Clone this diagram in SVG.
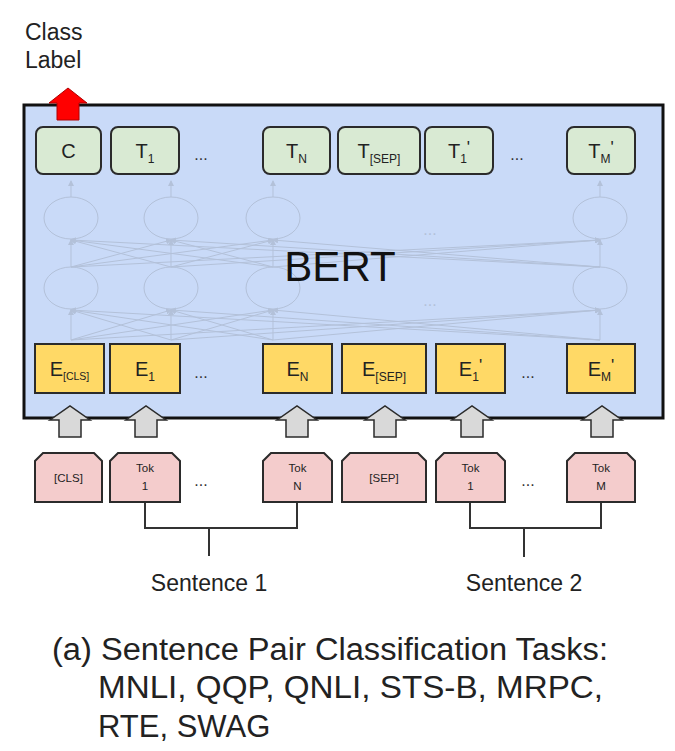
<svg xmlns="http://www.w3.org/2000/svg" width="675" height="751" viewBox="0 0 675 751">
<style>
text{font-family:"Liberation Sans",Arial,sans-serif;fill:#222}
.g{fill:#d9ead3;stroke:#2b2b2b;stroke-width:2}
.y{fill:#ffd966;stroke:#2b2b2b;stroke-width:2}
.p{fill:#f4cccc;stroke:#2b2b2b;stroke-width:2}
.lab{font-size:20px;text-anchor:middle}
.sub{font-size:12px}
.tok{font-size:11.5px;text-anchor:middle}
.dots{font-size:16px;text-anchor:middle;fill:#333}
.net{fill:none;stroke:#b3c1d9;stroke-width:1}
.ga{fill:#d9d9d9;stroke:#2b2b2b;stroke-width:1.5}
.br{fill:none;stroke:#333;stroke-width:2}
</style>
<defs>
<marker id="ah" markerWidth="6" markerHeight="6" refX="5" refY="3" orient="auto" markerUnits="userSpaceOnUse"><path d="M0,0 L6,3 L0,6 z" fill="#b3c1d9"/></marker>
</defs>

<g id="class-label">
<text x="25" y="40" font-size="23">Class</text>
<text x="25" y="68" font-size="23">Label</text>
</g>

<g id="bert">
<rect x="24" y="105" width="639" height="313" fill="#c9daf8" stroke="#111" stroke-width="3"/>
<g id="network" class="net">
<ellipse cx="71" cy="218" rx="27" ry="21"/><ellipse cx="171" cy="218" rx="27" ry="21"/><ellipse cx="273" cy="218" rx="27" ry="21"/><ellipse cx="600" cy="218" rx="27" ry="21"/>
<ellipse cx="71" cy="288" rx="27" ry="21"/><ellipse cx="171" cy="288" rx="27" ry="21"/><ellipse cx="273" cy="288" rx="27" ry="21"/><ellipse cx="600" cy="288" rx="27" ry="21"/>
<g marker-end="url(#ah)">
<path d="M71,197 V181"/><path d="M171,197 V181"/><path d="M273,197 V181"/><path d="M600,197 V181"/>
<path d="M71,267 L71,240"/><path d="M171,267 L71,240"/><path d="M273,267 L71,240"/><path d="M600,267 L71,240"/>
<path d="M71,267 L171,240"/><path d="M171,267 L171,240"/><path d="M273,267 L171,240"/><path d="M600,267 L171,240"/>
<path d="M71,267 L273,240"/><path d="M171,267 L273,240"/><path d="M273,267 L273,240"/><path d="M600,267 L273,240"/>
<path d="M71,267 L600,240"/><path d="M171,267 L600,240"/><path d="M273,267 L600,240"/><path d="M600,267 L600,240"/>
<path d="M71,340 L71,310"/><path d="M171,340 L71,310"/><path d="M273,340 L71,310"/><path d="M600,340 L71,310"/>
<path d="M71,340 L171,310"/><path d="M171,340 L171,310"/><path d="M273,340 L171,310"/><path d="M600,340 L171,310"/>
<path d="M71,340 L273,310"/><path d="M171,340 L273,310"/><path d="M273,340 L273,310"/><path d="M600,340 L273,310"/>
<path d="M71,340 L600,310"/><path d="M171,340 L600,310"/><path d="M273,340 L600,310"/><path d="M600,340 L600,310"/>
</g>
</g>
<text x="430" y="235" class="dots" style="fill:#b3c1d9" font-size="12">...</text>
<text x="430" y="306" class="dots" style="fill:#b3c1d9" font-size="12">...</text>
<text x="340" y="281" font-size="42" text-anchor="middle" fill="#111" style="fill:#111">BERT</text>
</g>

<g id="out-C"><rect class="g" x="36" y="127" width="65" height="47" rx="7"/><text class="lab" x="68.5" y="158">C</text></g>
<g id="out-T1"><rect class="g" x="111" y="127" width="68" height="47" rx="7"/><text class="lab" x="145" y="158">T<tspan class="sub" dy="5">1</tspan></text></g>
<text class="dots" x="201" y="160">...</text>
<g id="out-TN"><rect class="g" x="263" y="127" width="67" height="47" rx="7"/><text class="lab" x="296.5" y="158">T<tspan class="sub" dy="5">N</tspan></text></g>
<g id="out-TSEP"><rect class="g" x="338" y="127" width="82" height="47" rx="7"/><text class="lab" x="379" y="158">T<tspan class="sub" dy="5">[SEP]</tspan></text></g>
<g id="out-T1p"><rect class="g" x="425" y="127" width="68" height="47" rx="7"/><text class="lab" x="459" y="158">T<tspan class="sub" dy="5">1</tspan><tspan font-size="17" dy="-10">'</tspan></text></g>
<text class="dots" x="517" y="160">...</text>
<g id="out-TMp"><rect class="g" x="567" y="127" width="68" height="47" rx="7"/><text class="lab" x="601" y="158">T<tspan class="sub" dy="5">M</tspan><tspan font-size="17" dy="-10">'</tspan></text></g>

<g id="emb-CLS"><rect class="y" x="35" y="344" width="69" height="49"/><text class="lab" x="69.5" y="376">E<tspan font-size="10.5" dy="4">[CLS]</tspan></text></g>
<g id="emb-1"><rect class="y" x="110" y="344" width="70" height="49"/><text class="lab" x="145" y="376">E<tspan class="sub" dy="5">1</tspan></text></g>
<text class="dots" x="201" y="378">...</text>
<g id="emb-N"><rect class="y" x="263" y="344" width="69" height="49"/><text class="lab" x="297.5" y="376">E<tspan class="sub" dy="5">N</tspan></text></g>
<g id="emb-SEP"><rect class="y" x="342" y="344" width="84" height="49"/><text class="lab" x="384" y="376">E<tspan class="sub" dy="5">[SEP]</tspan></text></g>
<g id="emb-1p"><rect class="y" x="436" y="344" width="69" height="49"/><text class="lab" x="470.5" y="376">E<tspan class="sub" dy="5">1</tspan><tspan font-size="17" dy="-10">'</tspan></text></g>
<text class="dots" x="528" y="378">...</text>
<g id="emb-Mp"><rect class="y" x="567" y="344" width="68" height="49"/><text class="lab" x="601" y="376">E<tspan class="sub" dy="5">M</tspan><tspan font-size="17" dy="-10">'</tspan></text></g>

<g id="connectors">
<path d="M57,120 V103 H49 L68,88 L87,103 H79 V120 Z" fill="#ff0000" stroke="#b00000" stroke-width="1"/>
<path class="ga" d="M59,437 V420 H50 L70,406 L90,420 H81 V437 Z"/>
<path class="ga" d="M135,437 V420 H126 L146,406 L166,420 H157 V437 Z"/>
<path class="ga" d="M286,437 V420 H277 L297,406 L317,420 H308 V437 Z"/>
<path class="ga" d="M374,437 V420 H365 L385,406 L405,420 H396 V437 Z"/>
<path class="ga" d="M461,437 V420 H452 L472,406 L492,420 H483 V437 Z"/>
<path class="ga" d="M591,437 V420 H582 L602,406 L622,420 H613 V437 Z"/>
<path class="br" d="M145,502 V528 H297 V502"/>
<path class="br" d="M209,528 V556" stroke-width="3"/>
<path class="br" d="M470,502 V528 H601 V502"/>
<path class="br" d="M524,528 V557" stroke-width="3"/>
</g>

<g id="tok-CLS"><path class="p" d="M35,502 V461 L43,453 H94 L102,461 V502 Z"/><text class="tok" x="68.5" y="482">[CLS]</text></g>
<g id="tok-1"><path class="p" d="M110,502 V461 L118,453 H172 L180,461 V502 Z"/><text class="tok" x="145" y="472">Tok</text><text class="tok" x="145" y="490">1</text></g>
<text class="dots" x="201" y="486">...</text>
<g id="tok-N"><path class="p" d="M263,502 V461 L271,453 H324 L332,461 V502 Z"/><text class="tok" x="297.5" y="472">Tok</text><text class="tok" x="297.5" y="490">N</text></g>
<g id="tok-SEP"><path class="p" d="M342,502 V461 L350,453 H418 L426,461 V502 Z"/><text class="tok" x="384" y="482">[SEP]</text></g>
<g id="tok-1p"><path class="p" d="M436,502 V461 L444,453 H497 L505,461 V502 Z"/><text class="tok" x="470.5" y="472">Tok</text><text class="tok" x="470.5" y="490">1</text></g>
<text class="dots" x="528" y="486">...</text>
<g id="tok-M"><path class="p" d="M567,502 V461 L575,453 H627 L635,461 V502 Z"/><text class="tok" x="601" y="472">Tok</text><text class="tok" x="601" y="490">M</text></g>

<g id="sentences">
<text x="209" y="591" font-size="23" text-anchor="middle">Sentence 1</text>
<text x="524" y="591" font-size="23" text-anchor="middle">Sentence 2</text>
</g>

<g id="caption" font-size="31">
<text x="52" y="660" font-size="31" textLength="556" lengthAdjust="spacingAndGlyphs">(a) Sentence Pair Classification Tasks:</text>
<text x="98" y="698" font-size="31" textLength="505" lengthAdjust="spacingAndGlyphs">MNLI, QQP, QNLI, STS-B, MRPC,</text>
<text x="98" y="737" font-size="31">RTE, SWAG</text>
</g>
</svg>
